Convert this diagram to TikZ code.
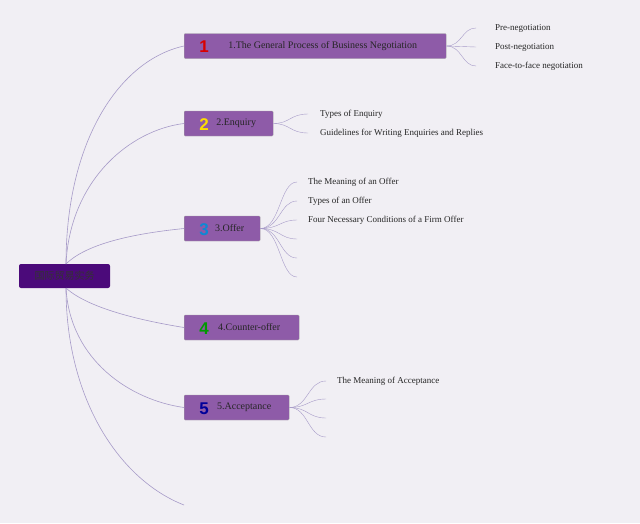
\documentclass[tikz,border=0pt]{standalone}
\usepackage{fontspec}
\setmainfont{Liberation Serif}
\newfontfamily\cjk{Noto Sans CJK SC}
\newfontfamily\numfont{Liberation Sans}
\definecolor{bgc}{HTML}{F1EFF4}
\definecolor{rootc}{HTML}{4B0A7A}
\definecolor{topicc}{HTML}{8E5BA8}
\definecolor{linec}{HTML}{A79AC8}
\tikzset{
  topic/.style={draw=gray!70, fill=topicc, rounded corners=1pt, anchor=west,
    minimum height=25pt, inner xsep=4pt, font=\fontsize{10}{12}\selectfont, text=black!85},
  num/.style={font=\numfont\bfseries\fontsize{17}{17}\selectfont},
  leaf/.style={anchor=west, inner sep=0pt, font=\fontsize{9}{11}\selectfont, text=black!85},
  branch/.style={draw=linec, line width=0.6pt}
}
\begin{document}
\begin{tikzpicture}[x=1pt,y=-1pt]
\fill[bgc] (0,0) rectangle (640,523);
\useasboundingbox (0,0) rectangle (640,523);
% root
\node [fill=rootc, rounded corners=2pt, minimum width=91pt, minimum height=24pt,
  font=\cjk\fontsize{10}{12}\selectfont, text=black!80] (root) at (64.5,276) {国际贸易实务};
\coordinate (hub) at (66,264);
\coordinate (hubb) at (66,288);
% topics
\node [topic, minimum width=262pt] (t1) at (184,46) {\phantom{1}\hspace{10pt}1.The General Process of Business Negotiation};
\node [topic, minimum width=89pt] (t2) at (184,123.5) {\phantom{1}\hspace{10pt}2.Enquiry};
\node [topic, minimum width=76pt] (t3) at (184,228.5) {\phantom{1}\hspace{10pt}3.Offer};
\node [topic, minimum width=115pt] (t4) at (184,327.5) {\phantom{1}\hspace{10pt}4.Counter-offer};
\node [topic, minimum width=105pt] (t5) at (184,407.5) {\phantom{1}\hspace{10pt}5.Acceptance};
\coordinate (t6) at (184,505);
\node [num, text=red!85!black] at (204,47) {1};
\node [num, text=yellow!80!orange] at (204,124.5) {2};
\node [num, text=cyan!70!blue] at (204,229.5) {3};
\node [num, text=green!60!black] at (204,328.5) {4};
\node [num, text=blue!60!black] at (204,408.5) {5};
% root connectors
\draw [branch] (hub) .. controls (66,140) and (120,60) .. (t1.west);
\draw [branch] (hub) .. controls (70,180) and (130,130) .. (t2.west);
\draw [branch] (hub) .. controls (90,240) and (150,232) .. (t3.west);
\draw [branch] (hubb) .. controls (90,310) and (150,322) .. (t4.west);
\draw [branch] (hubb) .. controls (70,360) and (130,400) .. (t5.west);
\draw [branch] (hubb) .. controls (66,400) and (120,480) .. (t6);
% leaves
\foreach \y/\txt [count=\i] in {28/Pre-negotiation, 47/Post-negotiation, 66/Face-to-face negotiation}{
  \coordinate (a\i) at (476,\y);
  \node [leaf] (la\i) at (495,\y) {\txt};
  \draw [branch, line width=0.4pt] (t1.east) .. controls (462,46) and (462,\y) .. (a\i);
}
\foreach \y/\txt [count=\i] in {114/Types of Enquiry, 133/Guidelines for Writing Enquiries and Replies}{
  \coordinate (b\i) at (308,\y);
  \node [leaf] (lb\i) at (320,\y) {\txt};
  \draw [branch, line width=0.4pt] (t2.east) .. controls (290,123.5) and (290,\y) .. (b\i);
}
\foreach \y/\txt [count=\i] in {182/The Meaning of an Offer, 201/Types of an Offer, 220/Four Necessary Conditions of a Firm Offer, 239/, 258/, 277/}{
  \coordinate (c\i) at (297,\y);
  \node [leaf] (lc\i) at (308,\y) {\txt};
  \draw [branch, line width=0.4pt] (t3.east) .. controls (280,228.5) and (280,\y) .. (c\i);
}
\foreach \y/\txt [count=\i] in {381/The Meaning of Acceptance, 399/, 418/, 437/}{
  \coordinate (e\i) at (326,\y);
  \node [leaf] (le\i) at (337,\y) {\txt};
  \draw [branch, line width=0.4pt] (t5.east) .. controls (308,407.5) and (308,\y) .. (e\i);
}
\end{tikzpicture}
\end{document}
